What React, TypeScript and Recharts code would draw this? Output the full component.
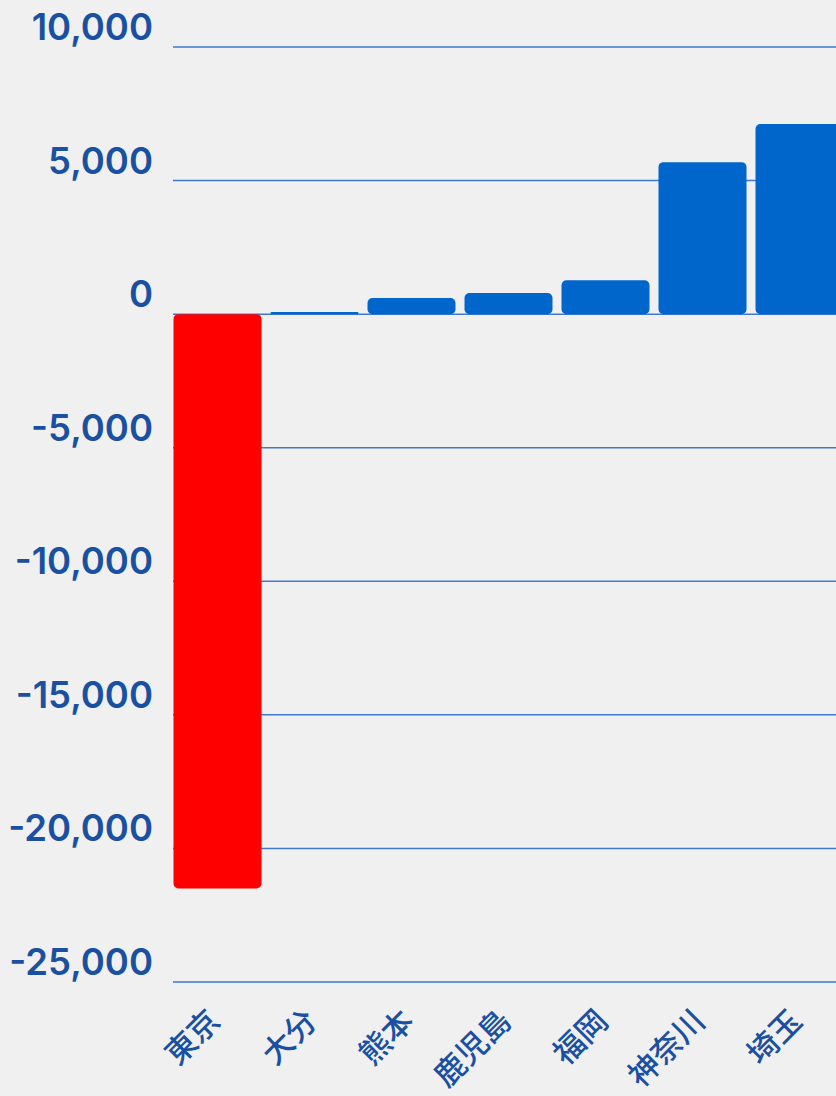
import React from 'react';
import { BarChart, Bar, XAxis, YAxis, CartesianGrid, Cell } from 'recharts';

const PREFS = ['東京', '大分', '熊本', '鹿児島', '福岡', '神奈川', '埼玉'];
const VALUES = [-21500, 80, 600, 790, 1270, 5690, 7120];
const Y_TICKS = [-25000, -20000, -15000, -10000, -5000, 0, 5000, 10000];

const BLUE = '#0066cc';
const RED = '#ff0000';
const TEXT = '#1a50a2';
const GRID = '#3f78cc';

const data = PREFS.map((name, i) => ({ name, value: VALUES[i] }));

function YTick({ x, y, payload }: any) {
  return (
    <text x={x} y={y} dy={-7} textAnchor="end" fill={TEXT}
      style={{ fontFamily: 'Inter, "Liberation Sans", sans-serif', fontWeight: 600, fontSize: 36.5 }}>
      {Number(payload.value).toLocaleString('en-US')}
    </text>
  );
}

function XTick({ x, y, payload }: any) {
  return (
    <g transform={`translate(${x + 5},${y + 33})`}>
      <text transform="rotate(-45)" textAnchor="end" fill={TEXT}
        style={{ fontFamily: '"Noto Sans CJK JP", sans-serif', fontWeight: 500, fontSize: 31 }}>
        {payload.value}
      </text>
    </g>
  );
}

export default function App() {
  return (
    <div style={{ position: 'absolute', left: 0, top: 0, width: 836, height: 1096, overflow: 'hidden', background: '#f0f0f0' }}>
      <BarChart width={847.5} height={1096} data={data}
        margin={{ top: 47, right: 0, bottom: 0, left: 0 }} barSize={88}>
        <CartesianGrid vertical={false} stroke={GRID} strokeWidth={1.5} />
        <XAxis dataKey="name" height={114} axisLine={false} tickLine={false}
          padding={{ left: -4.5, right: 0 }} interval={0} tick={<XTick />} />
        <YAxis width={173} domain={[-25000, 10000]} ticks={Y_TICKS} axisLine={false}
          tickLine={false} tickMargin={14} tick={<YTick />} />
        <Bar dataKey="value" radius={5} isAnimationActive={false}>
          {data.map((d, i) => (
            <Cell key={`cell-${i}`} fill={d.value < 0 ? RED : BLUE} />
          ))}
        </Bar>
      </BarChart>
    </div>
  );
}
